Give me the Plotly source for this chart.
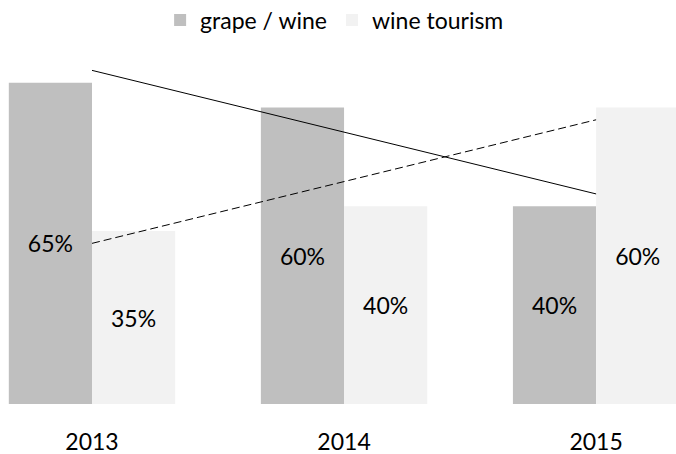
import numpy as np
import plotly.graph_objects as go

years = ["2013", "2014", "2015"]
grape_wine = [65, 60, 40]
wine_tourism = [35, 40, 60]

x = np.arange(len(years))
FONT = "Lato"
FS = 23

def trend(vals):
    k, b = np.polyfit(x, vals, 1)
    return k * x + b

fig = go.Figure()
fig.add_trace(go.Bar(
    x=x, y=grape_wine, name="grape / wine",
    marker=dict(color="#bfbfbf", line=dict(width=0)),
    text=[f"{v}%" for v in grape_wine], textposition="inside",
    insidetextanchor="middle", textfont=dict(size=FS, color="#000000", family=FONT),
))
fig.add_trace(go.Bar(
    x=x, y=wine_tourism, name="wine tourism",
    marker=dict(color="#f2f2f2", line=dict(width=0)),
    text=[f"{v}%" for v in wine_tourism], textposition="inside",
    insidetextanchor="middle", textfont=dict(size=FS, color="#000000", family=FONT),
))
fig.add_trace(go.Scatter(
    x=x, y=trend(grape_wine), mode="lines", showlegend=False,
    line=dict(color="#000000", width=1), hoverinfo="skip",
))
fig.add_trace(go.Scatter(
    x=x, y=trend(wine_tourism), mode="lines", showlegend=False,
    line=dict(color="#000000", width=1, dash="8px,4px"), hoverinfo="skip",
))

fig.update_layout(
    width=676, height=454,
    margin=dict(l=0, r=0, t=58, b=50),
    paper_bgcolor="white", plot_bgcolor="white",
    barmode="group", bargap=0.34, bargroupgap=0,
    uniformtext=dict(mode=False),
    font=dict(family=FONT, size=FS, color="#000000"),
    showlegend=True,
    legend=dict(orientation="h", x=0.495, xanchor="center", y=1 - 20 / 454, yanchor="middle",
                yref="container", font=dict(size=FS, family=FONT),
                traceorder="normal", itemsizing="constant"),
    xaxis=dict(range=[-0.365, 2.317], tickmode="array", tickvals=list(x), ticktext=years,
               showgrid=False, zeroline=False, showline=False, ticks="",
               ticklabelstandoff=22, tickfont=dict(size=FS, family=FONT)),
    yaxis=dict(range=[0, 70], showgrid=False, zeroline=False, showline=False,
               showticklabels=False, ticks=""),
)
fig.write_html("out.html", config={"displayModeBar": False})

with open("out.html", encoding="utf-8") as f:
    html = f.read()
html = html.replace("<head>", "<head><style>html,body{margin:0;padding:0;}</style>", 1)
with open("out.html", "w", encoding="utf-8") as f:
    f.write(html)
